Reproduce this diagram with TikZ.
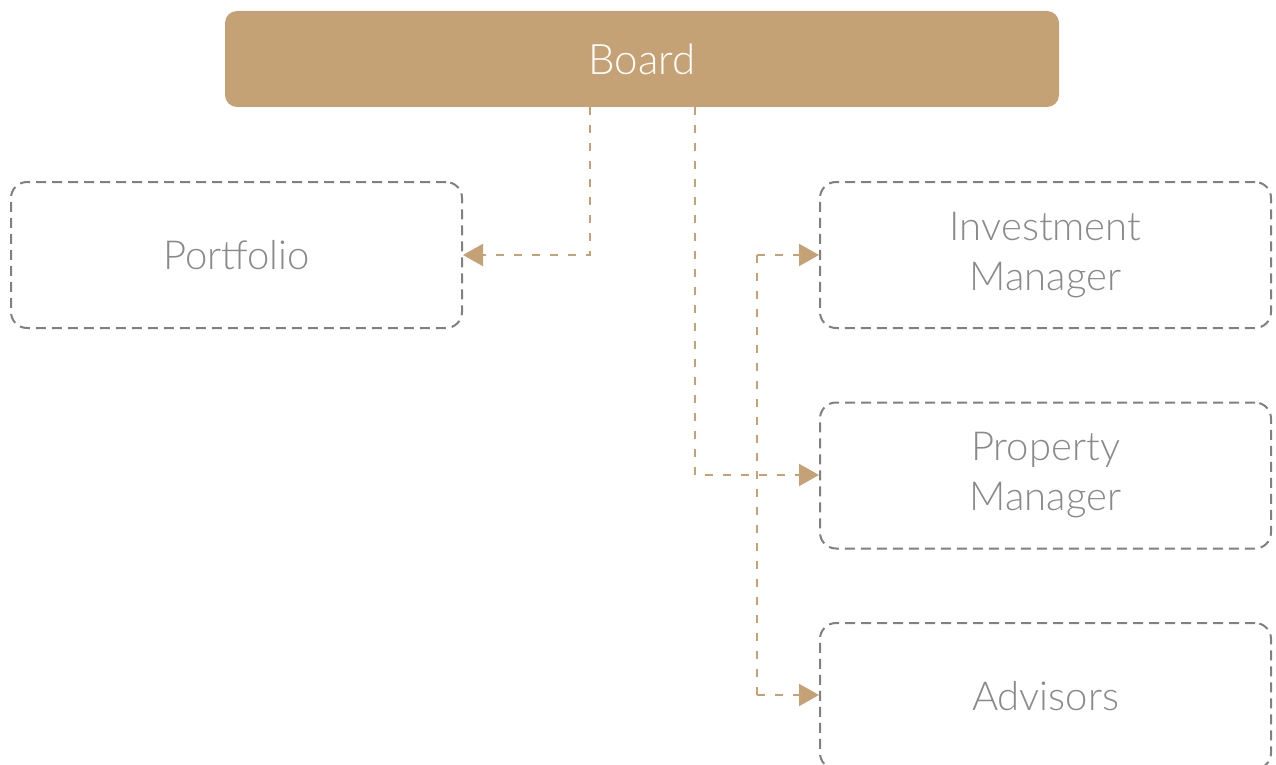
\documentclass[tikz,border=0pt]{standalone}
\usepackage{fontspec}
\setmainfont{Lato}[UprightFont=* Light]
\usetikzlibrary{arrows.meta}

\definecolor{boardtan}{HTML}{C5A275}
\definecolor{boxgray}{HTML}{808080}
\definecolor{textgray}{HTML}{8A8A8A}

\begin{document}
\begin{tikzpicture}[x=1pt,y=1pt,yscale=-1,xscale=1,
    board/.style={fill=boardtan,rounded corners=12pt,minimum width=834pt,minimum height=96pt,
        text=white,font=\fontsize{42}{48}\selectfont,inner sep=0pt},
    unit/.style={draw=boxgray,line width=2pt,dash pattern=on 10pt off 6pt,rounded corners=16pt,
        minimum width=451pt,minimum height=146pt,text=textgray,align=center,
        font=\fontsize{40}{50}\selectfont,inner sep=0pt},
    link/.style={draw=boardtan,line width=2.2pt,dash pattern=on 8pt off 10pt,
        -{Triangle[length=20pt,width=22pt]}}]
    \useasboundingbox (0,0) rectangle (1276,765);

    % Boxes
    \node [board] (board) at (642,59) {Board};
    \node [unit] (portfolio) at (236.5,255) {Portfolio};
    \node [unit] (invest) at (1045.5,255) {Investment\\Manager};
    \node [unit] (property) at (1045.5,475.5) {Property\\Manager};
    \node [unit] (advisors) at (1045.5,696) {Advisors};

    % Lines from the board
    \coordinate (bleft) at (590,107);
    \coordinate (bright) at (695,107);
    \draw [link] (bleft) |- (portfolio.east);
    \draw [link] (bright) |- (property.west |- 0,475);

    % Vertical joining the investment manager and the advisors
    \coordinate (vtop) at (757,255);
    \coordinate (vbot) at (757,695);
    \draw [link,-] (vtop) -- (vbot);
    \draw [link] (vtop) -- (invest.west |- vtop);
    \draw [link] (vbot) -- (advisors.west |- vbot);

\end{tikzpicture}
\end{document}
